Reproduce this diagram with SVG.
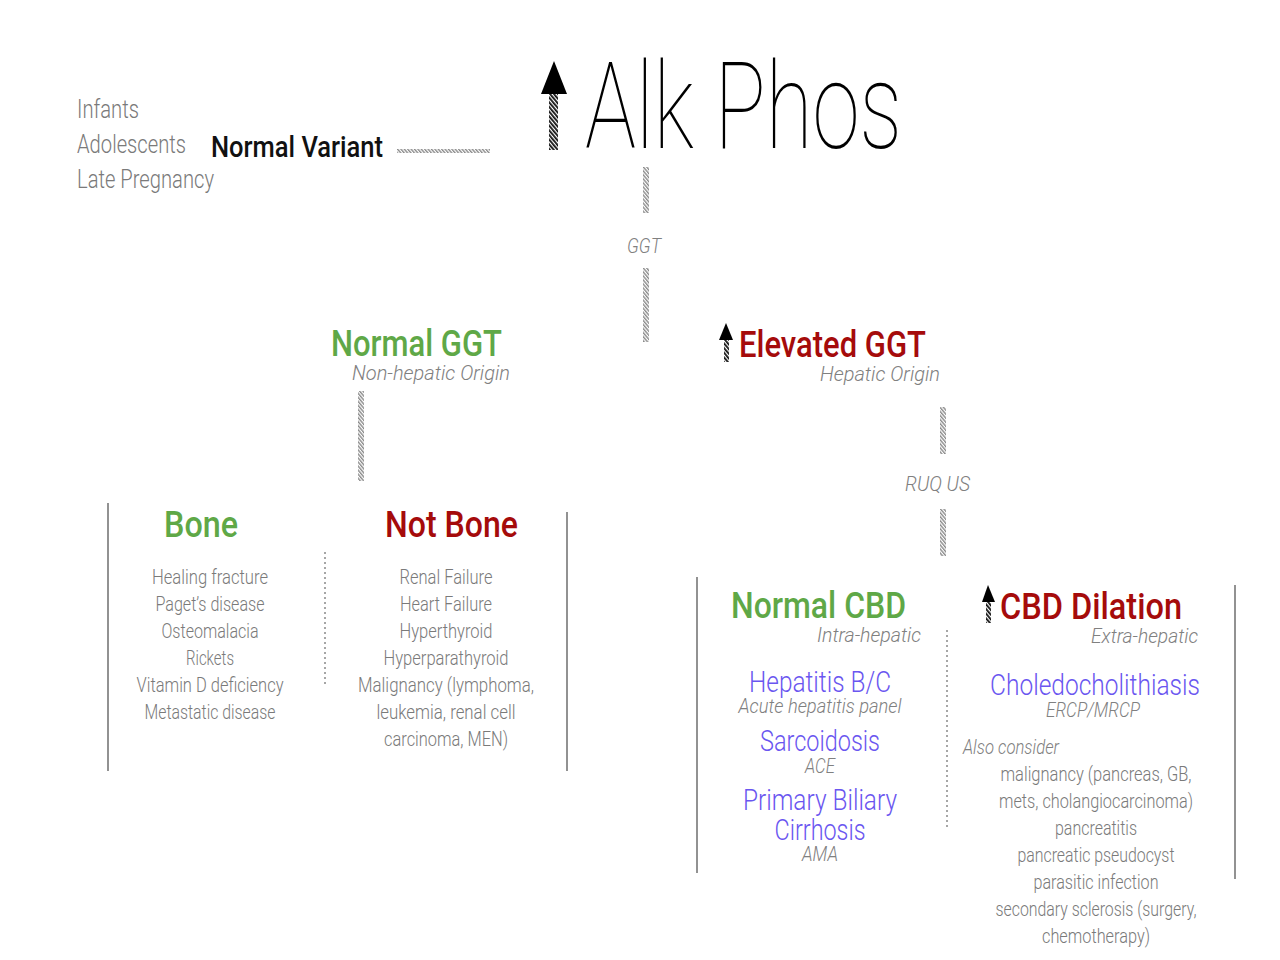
<svg xmlns="http://www.w3.org/2000/svg" width="1280" height="960" viewBox="0 0 1280 960">
<defs>
<pattern id="hatchGrey" width="2.6" height="2.6" patternUnits="userSpaceOnUse" patternTransform="rotate(-40)"><rect width="1.4" height="2.6" fill="#8a8a8a"/></pattern>
<pattern id="hatchBlack" width="3" height="3" patternUnits="userSpaceOnUse" patternTransform="rotate(-40)"><rect width="1.8" height="3" fill="#111"/></pattern>
</defs>
<style>
text{font-family:Roboto,"Open Sans","Liberation Sans",sans-serif}
.lt{font-weight:300;font-size:21px;fill:#7a7a7a}
.sub{font-weight:300;font-style:italic;font-size:20px;fill:#808080}
.hd{font-weight:500;font-size:37px}
.green{fill:#5fa847}
.red{fill:#a50b0b}
.blue{font-weight:300;font-size:29px;fill:#6a56f0}
.mid{text-anchor:middle}
.frame{stroke:#6e6e6e;stroke-width:1.5;fill:none}
.dot{stroke:#777;stroke-width:1.3;stroke-dasharray:2 3;fill:none}
</style>
<rect width="1280" height="960" fill="#fff"/>

<g id="connectors">
<rect x="397" y="149" width="93" height="4" fill="url(#hatchGrey)"/>
<rect x="643" y="167" width="6" height="46" fill="url(#hatchGrey)"/>
<rect x="643" y="268" width="6" height="74" fill="url(#hatchGrey)"/>
<rect x="358" y="391" width="6" height="90" fill="url(#hatchGrey)"/>
<rect x="940" y="407" width="6" height="47" fill="url(#hatchGrey)"/>
<rect x="940" y="509" width="6" height="47" fill="url(#hatchGrey)"/>
<text class="sub" x="627" y="253" style="font-size:21px" textLength="34" lengthAdjust="spacingAndGlyphs">GGT</text>
<text class="sub" x="905" y="491" style="font-size:21px" textLength="65" lengthAdjust="spacingAndGlyphs">RUQ US</text>
</g>

<g id="normal-variant">
<text class="lt" x="77" y="118" style="font-size:25px" textLength="62" lengthAdjust="spacingAndGlyphs">Infants</text>
<text class="lt" x="77" y="153" style="font-size:25px" textLength="109" lengthAdjust="spacingAndGlyphs">Adolescents</text>
<text class="lt" x="77" y="188" style="font-size:25px" textLength="137" lengthAdjust="spacingAndGlyphs">Late Pregnancy</text>
<text x="211" y="157" style="font-weight:500;font-size:30px;fill:#111" textLength="172" lengthAdjust="spacingAndGlyphs">Normal Variant</text>
</g>

<g id="alk-phos">
<polygon points="554,61 541,94 567,94" fill="#000"/>
<rect x="549" y="94" width="9" height="56" fill="url(#hatchBlack)"/>
<text x="585" y="148" style="font-weight:100;font-size:120px;fill:#000" textLength="317" lengthAdjust="spacingAndGlyphs">Alk Phos</text>
</g>

<g id="normal-ggt">
<text class="hd green" x="331" y="356" textLength="171" lengthAdjust="spacingAndGlyphs">Normal GGT</text>
<text class="sub" x="352" y="380" style="font-size:21px" textLength="158" lengthAdjust="spacingAndGlyphs">Non-hepatic Origin</text>
</g>

<g id="elevated-ggt">
<polygon points="726,323 719,340 733,340" fill="#000"/>
<rect x="724" y="340" width="5" height="22" fill="url(#hatchBlack)"/>
<text class="hd red" x="739" y="357" textLength="187" lengthAdjust="spacingAndGlyphs">Elevated GGT</text>
<text class="sub" x="820" y="381" style="font-size:21px" textLength="120" lengthAdjust="spacingAndGlyphs">Hepatic Origin</text>
</g>

<g id="bone-box">
<line class="frame" x1="108" y1="503" x2="108" y2="771"/>
<line class="frame" x1="567" y1="512" x2="567" y2="771"/>
<line class="dot" x1="325" y1="552" x2="325" y2="684"/>
</g>

<g id="bone">
<text class="hd green" x="164" y="537" textLength="74" lengthAdjust="spacingAndGlyphs">Bone</text>
<text class="lt mid" x="210" y="584" textLength="116" lengthAdjust="spacingAndGlyphs">Healing fracture</text>
<text class="lt mid" x="210" y="611" textLength="109" lengthAdjust="spacingAndGlyphs">Paget’s disease</text>
<text class="lt mid" x="210" y="638" textLength="97" lengthAdjust="spacingAndGlyphs">Osteomalacia</text>
<text class="lt mid" x="210" y="665" textLength="48" lengthAdjust="spacingAndGlyphs">Rickets</text>
<text class="lt mid" x="210" y="692" textLength="147" lengthAdjust="spacingAndGlyphs">Vitamin D deficiency</text>
<text class="lt mid" x="210" y="719" textLength="131" lengthAdjust="spacingAndGlyphs">Metastatic disease</text>
</g>

<g id="not-bone">
<text class="hd red" x="385" y="537" textLength="133" lengthAdjust="spacingAndGlyphs">Not Bone</text>
<text class="lt mid" x="446" y="584" textLength="93" lengthAdjust="spacingAndGlyphs">Renal Failure</text>
<text class="lt mid" x="446" y="611" textLength="92" lengthAdjust="spacingAndGlyphs">Heart Failure</text>
<text class="lt mid" x="446" y="638" textLength="93" lengthAdjust="spacingAndGlyphs">Hyperthyroid</text>
<text class="lt mid" x="446" y="665" textLength="125" lengthAdjust="spacingAndGlyphs">Hyperparathyroid</text>
<text class="lt mid" x="446" y="692" textLength="176" lengthAdjust="spacingAndGlyphs">Malignancy (lymphoma,</text>
<text class="lt mid" x="446" y="719" textLength="139" lengthAdjust="spacingAndGlyphs">leukemia, renal cell</text>
<text class="lt mid" x="446" y="746" textLength="124" lengthAdjust="spacingAndGlyphs">carcinoma, MEN)</text>
</g>

<g id="cbd-box">
<line class="frame" x1="697" y1="577" x2="697" y2="873"/>
<line class="frame" x1="1235" y1="585" x2="1235" y2="879"/>
<line class="dot" x1="947" y1="630" x2="947" y2="830"/>
</g>

<g id="normal-cbd">
<text class="hd green" x="731" y="618" textLength="175" lengthAdjust="spacingAndGlyphs">Normal CBD</text>
<text class="sub" x="817" y="642" style="font-size:21px" textLength="104" lengthAdjust="spacingAndGlyphs">Intra-hepatic</text>
<text class="blue mid" x="820" y="692" textLength="142" lengthAdjust="spacingAndGlyphs">Hepatitis B/C</text>
<text class="sub mid" x="820" y="713" textLength="163" lengthAdjust="spacingAndGlyphs">Acute hepatitis panel</text>
<text class="blue mid" x="820" y="751" textLength="120" lengthAdjust="spacingAndGlyphs">Sarcoidosis</text>
<text class="sub mid" x="820" y="773" textLength="30" lengthAdjust="spacingAndGlyphs">ACE</text>
<text class="blue mid" x="820" y="810" textLength="154" lengthAdjust="spacingAndGlyphs">Primary Biliary</text>
<text class="blue mid" x="820" y="840" textLength="91" lengthAdjust="spacingAndGlyphs">Cirrhosis</text>
<text class="sub mid" x="820" y="861" textLength="36" lengthAdjust="spacingAndGlyphs">AMA</text>
</g>

<g id="cbd-dilation">
<polygon points="988,585 982,602 995,602" fill="#000"/>
<rect x="986" y="602" width="5" height="21" fill="url(#hatchBlack)"/>
<text class="hd red" x="1000" y="619" textLength="182" lengthAdjust="spacingAndGlyphs">CBD Dilation</text>
<text class="sub" x="1091" y="643" style="font-size:21px" textLength="107" lengthAdjust="spacingAndGlyphs">Extra-hepatic</text>
<text class="blue mid" x="1095" y="695" textLength="210" lengthAdjust="spacingAndGlyphs">Choledocholithiasis</text>
<text class="sub mid" x="1093" y="717" textLength="94" lengthAdjust="spacingAndGlyphs">ERCP/MRCP</text>
<text class="sub" x="963" y="754" textLength="96" lengthAdjust="spacingAndGlyphs">Also consider</text>
<text class="lt mid" x="1096" y="781" textLength="191" lengthAdjust="spacingAndGlyphs">malignancy (pancreas, GB,</text>
<text class="lt mid" x="1096" y="808" textLength="194" lengthAdjust="spacingAndGlyphs">mets, cholangiocarcinoma)</text>
<text class="lt mid" x="1096" y="835" textLength="82" lengthAdjust="spacingAndGlyphs">pancreatitis</text>
<text class="lt mid" x="1096" y="862" textLength="157" lengthAdjust="spacingAndGlyphs">pancreatic pseudocyst</text>
<text class="lt mid" x="1096" y="889" textLength="125" lengthAdjust="spacingAndGlyphs">parasitic infection</text>
<text class="lt mid" x="1096" y="916" textLength="201" lengthAdjust="spacingAndGlyphs">secondary sclerosis (surgery,</text>
<text class="lt mid" x="1096" y="943" textLength="108" lengthAdjust="spacingAndGlyphs">chemotherapy)</text>
</g>
</svg>
